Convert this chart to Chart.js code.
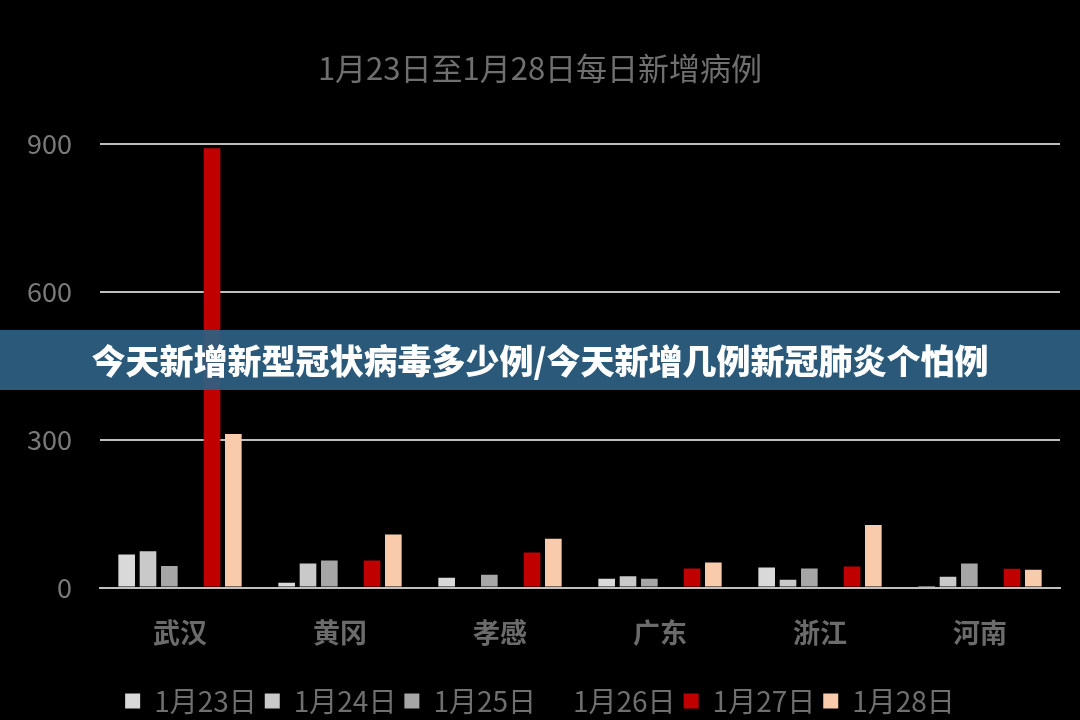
<!DOCTYPE html>
<html>
<head>
<meta charset="utf-8">
<script src="https://cdn.jsdelivr.net/npm/chart.js@4"></script>
<style>
  html, body { margin: 0; padding: 0; background: #000; }
  #wrap { position: relative; width: 1080px; height: 720px; }
  #banner {
    position: absolute; left: 0; top: 330px; width: 1080px; height: 60px;
    background: rgba(46, 96, 130, 0.93); color: #fff;
    font-family: "Noto Sans CJK SC", sans-serif; font-weight: 900; font-size: 34px;
    line-height: 60px; text-align: center;
  }
</style>
</head>
<body>
<div id="wrap">
  <canvas id="chart" width="1080" height="720"></canvas>
  <div id="banner">今天新增新型冠状病毒多少例/今天新增几例新冠肺炎个怕例</div>
</div>
<script>
var cities = ['武汉', '黄冈', '孝感', '广东', '浙江', '河南'];
var days = ['1月23日', '1月24日', '1月25日', '1月26日', '1月27日', '1月28日'];
var colors = ['#d9d9d9', '#c9c9c9', '#a6a6a6', '#000000', '#c00000', '#f8cbad'];

var jan23 = [67, 10, 20, 18, 41, 3];
var jan24 = [74, 49, 2, 23, 16, 22];
var jan25 = [44, 55, 26, 18, 39, 49];
var jan26 = [0, 0, 0, 0, 0, 0]; // drawn in black, not visible
var jan27 = [892, 55, 71, 39, 43, 38];
var jan28 = [312, 108, 99, 51, 127, 36];

var series = [jan23, jan24, jan25, jan26, jan27, jan28];
var font = '"Noto Sans CJK SC", sans-serif';

var datasets = series.map(function (values, i) {
    return {
        label: days[i],
        data: values,
        backgroundColor: colors[i],
        categoryPercentage: 0.8,
        barPercentage: 0.78
    };
});

new Chart(document.getElementById('chart'), {
    type: 'bar',
    data: { labels: cities, datasets: datasets },
    options: {
        responsive: false,
        animation: false,
        layout: { padding: { top: 50, right: 20, left: 20, bottom: -5 } },
        plugins: {
            title: {
                display: true,
                text: '1月23日至1月28日每日新增病例',
                color: '#6f6f6f',
                font: { family: font, size: 31, weight: 'normal' },
                padding: { top: 0, bottom: 57 }
            },
            legend: {
                position: 'bottom',
                labels: {
                    color: '#6f6f6f',
                    font: { family: font, size: 28 },
                    boxWidth: 15,
                    boxHeight: 15,
                    padding: 8
                }
            },
            tooltip: { enabled: false }
        },
        scales: {
            x: {
                grid: { display: false },
                border: { color: '#bfbfbf', width: 2 },
                ticks: {
                    color: '#6b6b6b',
                    padding: 12,
                    font: { family: font, size: 27, weight: 'bold', lineHeight: 1.867 }
                },
                afterFit: function (scale) { scale.height += 9; }
            },
            y: {
                min: 0,
                max: 900,
                ticks: {
                    stepSize: 300,
                    color: '#7a7a7a',
                    padding: 28,
                    font: { family: font, size: 27 }
                },
                grid: { color: '#bfbfbf', lineWidth: 2, drawTicks: false },
                border: { display: false },
                afterFit: function (scale) { scale.width = 80; }
            }
        }
    }
});
</script>
</body>
</html>
